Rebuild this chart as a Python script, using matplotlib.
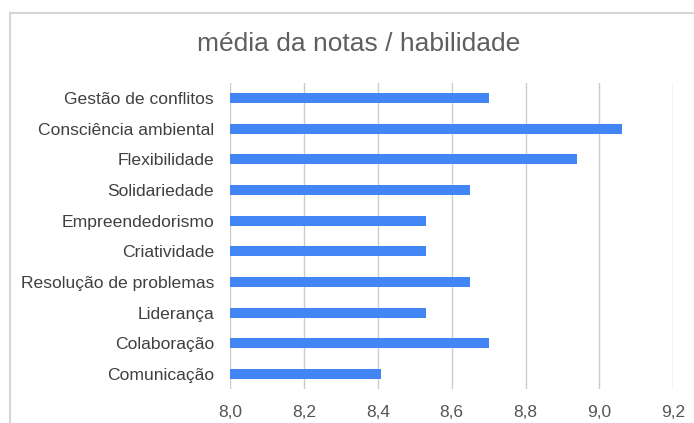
import matplotlib
matplotlib.use("Agg")
import matplotlib.pyplot as plt
from matplotlib.lines import Line2D

categories = ["Gestão de conflitos", "Consciência ambiental", "Flexibilidade",
              "Solidariedade", "Empreendedorismo", "Criatividade",
              "Resolução de problemas", "Liderança", "Colaboração", "Comunicação"]
values = [8.70, 9.06, 8.94, 8.65, 8.53, 8.53, 8.65, 8.53, 8.70, 8.41]
xticks = [8.0, 8.2, 8.4, 8.6, 8.8, 9.0, 9.2]
xtick_labels = ["8,0", "8,2", "8,4", "8,6", "8,8", "9,0", "9,2"]
title = "média da notas / habilidade"

plt.rcParams['font.family'] = ['Liberation Sans', 'DejaVu Sans']

fig = plt.figure(figsize=(6.94, 4.23), dpi=100)
ax = fig.add_axes([0.3314, 0.0797, 0.6388, 0.7248])

n = len(categories)
ypos = list(range(n))[::-1]
ax.barh(ypos, [v - 8.0 for v in values], left=8.0, height=0.33, color="#4285F4", zorder=3)

ax.set_xlim(8.0, 9.2)
ax.set_ylim(-0.5, n - 0.5)
ax.set_xticks(xticks)
ax.set_xticklabels(xtick_labels, fontsize=12.5, color="#555555")
ax.set_yticks(ypos)
ax.set_yticklabels(categories, fontsize=12.6, color="#404040")
ax.tick_params(axis='x', length=0, pad=11)
ax.tick_params(axis='y', length=0, pad=11.5)
ax.grid(axis='x', color="#cccccc", linewidth=1, zorder=0)
for s in ax.spines.values():
    s.set_visible(False)

fig.text(0.5 * (195 + 522) / 694, 1 - 44 / 423, title, fontsize=19, color="#5f5f5f",
         ha="center", va="center")

# outer border (top and left)
fig.add_artist(Line2D([9.5 / 694, 1.0], [1 - 13.5 / 423, 1 - 13.5 / 423],
                      color="#d6d6d6", linewidth=1.5, transform=fig.transFigure))
fig.add_artist(Line2D([9.5 / 694, 9.5 / 694], [0, 1 - 13.5 / 423],
                      color="#d6d6d6", linewidth=1.5, transform=fig.transFigure))

fig.savefig("out.png", dpi=100)
